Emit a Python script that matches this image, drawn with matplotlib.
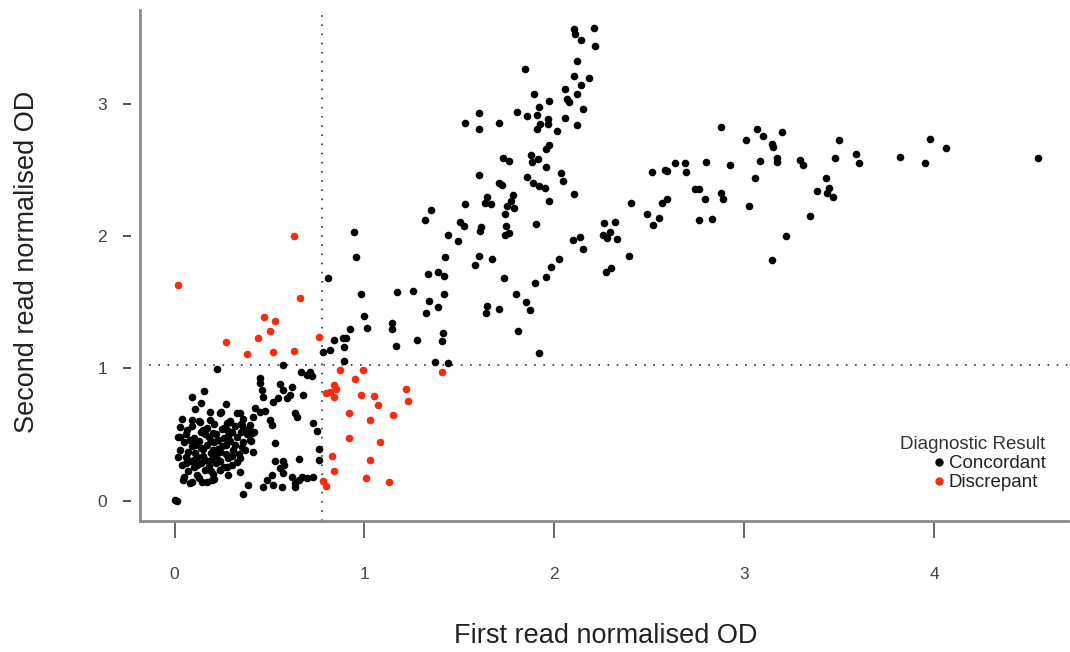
import matplotlib
matplotlib.use('Agg')
import matplotlib.pyplot as plt
from matplotlib.lines import Line2D

plt.rcParams['font.family'] = ['Liberation Sans', 'DejaVu Sans']

# cut-offs used for the two reads
x_cut = 0.776
y_cut = 1.025

# concordant results - dense low cluster
conc_low = [
    (0.003, 0.004), (0.013, -0.004), (0.155, 0.828), (0.092, 0.783), (0.139, 0.738),
    (0.108, 0.692), (0.187, 0.669), (0.271, 0.730), (0.245, 0.669), (0.239, 0.662),
    (0.329, 0.662), (0.276, 0.586), (0.187, 0.609), (0.092, 0.609), (0.134, 0.594),
    (0.292, 0.594), (0.029, 0.556), (0.066, 0.533), (0.150, 0.533), (0.203, 0.511),
    (0.276, 0.533), (0.361, 0.533), (0.018, 0.480), (0.045, 0.155), (0.082, 0.132),
    (0.145, 0.140), (0.197, 0.155), (0.239, 0.231), (0.276, 0.253),
    (0.04, 0.62), (0.06, 0.50), (0.05, 0.44), (0.03, 0.38), (0.06, 0.33), (0.04, 0.27),
    (0.07, 0.22), (0.05, 0.18), (0.09, 0.56), (0.10, 0.47), (0.09, 0.41), (0.11, 0.36),
    (0.08, 0.30), (0.10, 0.25), (0.12, 0.19), (0.09, 0.14), (0.13, 0.60), (0.14, 0.52),
    (0.13, 0.45), (0.15, 0.39), (0.12, 0.33), (0.14, 0.28), (0.16, 0.23), (0.13, 0.17),
    (0.17, 0.55), (0.18, 0.48), (0.17, 0.42), (0.19, 0.36), (0.16, 0.31), (0.18, 0.26),
    (0.20, 0.20), (0.17, 0.14), (0.21, 0.58), (0.22, 0.50), (0.21, 0.44), (0.23, 0.39),
    (0.20, 0.33), (0.22, 0.28), (0.24, 0.23), (0.21, 0.16), (0.25, 0.54), (0.26, 0.47),
    (0.25, 0.41), (0.27, 0.35), (0.24, 0.30), (0.26, 0.25), (0.28, 0.19), (0.29, 0.60),
    (0.30, 0.52), (0.29, 0.45), (0.31, 0.38), (0.28, 0.32), (0.30, 0.27), (0.32, 0.56),
    (0.33, 0.48), (0.32, 0.42), (0.34, 0.35), (0.33, 0.29), (0.35, 0.52), (0.36, 0.44),
    (0.37, 0.38), (0.11, 0.42), (0.15, 0.34), (0.19, 0.45), (0.23, 0.31), (0.27, 0.42),
    (0.07, 0.37), (0.16, 0.50), (0.24, 0.37), (0.12, 0.27), (0.20, 0.38), (0.28, 0.49),
    (0.08, 0.46), (0.18, 0.30), (0.26, 0.55), (0.14, 0.40), (0.22, 0.35), (0.10, 0.31),
    (0.30, 0.34), (0.06, 0.28), (0.19, 0.22), (0.23, 0.46), (0.35, 0.58), (0.38, 0.50),
    (0.02, 0.33), (0.03, 0.48), (0.40, 0.45), (0.39, 0.55), (0.42, 0.52), (0.36, 0.62),
]

# concordant results - around the cut-offs
conc_mid = [
    (0.945, 2.030), (0.955, 1.842), (0.808, 1.683), (0.982, 1.562), (1.171, 1.577),
    (1.255, 1.585), (0.997, 1.395), (1.013, 1.305), (0.924, 1.297), (1.145, 1.343),
    (1.145, 1.297), (0.903, 1.229), (0.887, 1.229), (0.839, 1.214), (0.892, 1.161),
    (0.818, 1.138), (0.782, 1.123), (1.166, 1.169), (1.276, 1.214), (0.892, 1.055),
    (0.571, 1.025), (0.224, 0.995), (0.724, 0.942), (0.697, 0.949), (0.666, 0.972),
    (0.713, 0.972), (0.450, 0.927), (0.450, 0.889), (0.461, 0.836), (0.555, 0.881),
    (0.571, 0.836), (0.618, 0.859), (0.608, 0.798), (0.676, 0.798), (0.518, 0.745),
    (0.545, 0.775), (0.592, 0.775), (0.466, 0.783), (0.424, 0.700), (0.450, 0.669),
    (0.476, 0.677), (0.413, 0.632), (0.503, 0.609), (0.513, 0.571), (0.634, 0.662),
    (0.645, 0.632), (0.729, 0.586), (0.750, 0.526), (0.761, 0.390), (0.761, 0.306),
    (0.729, 0.178), (0.697, 0.170), (0.671, 0.178), (0.655, 0.155), (0.634, 0.132),
    (0.634, 0.102), (0.618, 0.178), (0.655, 0.314), (0.571, 0.299), (0.529, 0.299),
    (0.576, 0.269), (0.555, 0.246), (0.571, 0.208), (0.513, 0.193), (0.487, 0.155),
    (0.518, 0.117), (0.566, 0.102), (0.466, 0.102), (0.387, 0.117), (0.361, 0.049),
    (0.529, 0.435), (0.413, 0.367), (0.355, 0.405), (0.345, 0.321), (0.397, 0.458),
    (0.408, 0.511), (0.355, 0.571), (0.397, 0.571), (0.345, 0.662), (0.345, 0.216),
]

# concordant results - steep upper branch
conc_upper = [
    (2.103, 3.567), (2.108, 3.529), (2.139, 3.484), (2.208, 3.574), (2.213, 3.438),
    (2.118, 3.325), (1.845, 3.264), (2.103, 3.211), (2.182, 3.196), (2.139, 3.143),
    (2.055, 3.113), (2.118, 3.075), (1.892, 3.075), (1.971, 3.022), (2.066, 3.037),
    (2.076, 3.014), (2.150, 2.961), (1.803, 2.939), (1.918, 2.977), (1.603, 2.931),
    (1.855, 2.909), (1.908, 2.916), (2.055, 2.893), (1.966, 2.886), (1.924, 2.848),
    (1.966, 2.848), (2.118, 2.841), (1.529, 2.856), (1.708, 2.856), (1.603, 2.810),
    (1.908, 2.810), (2.013, 2.795), (1.971, 2.689), (1.955, 2.659), (1.729, 2.591),
    (1.761, 2.568), (1.876, 2.613), (1.882, 2.561), (1.913, 2.583), (1.955, 2.523),
    (1.603, 2.462), (2.034, 2.477), (2.045, 2.417), (1.855, 2.447), (1.887, 2.402),
    (1.918, 2.379), (1.950, 2.364), (1.708, 2.402), (1.724, 2.387), (2.103, 2.319),
    (1.782, 2.311), (1.645, 2.296), (1.634, 2.250), (1.666, 2.243), (1.771, 2.265),
    (1.750, 2.228), (1.787, 2.213), (1.971, 2.265), (1.529, 2.243), (1.350, 2.197),
    (1.318, 2.122), (1.739, 2.167), (1.503, 2.107), (1.524, 2.076), (1.613, 2.069),
    (1.608, 2.039), (1.745, 2.076), (1.903, 2.092), (1.439, 2.008), (1.492, 1.963),
    (1.739, 2.008), (1.761, 2.024), (1.424, 1.842), (1.603, 1.849), (1.582, 1.781),
    (1.671, 1.827), (1.334, 1.713), (1.387, 1.728), (1.418, 1.698), (1.734, 1.683),
    (1.418, 1.562), (1.339, 1.509), (1.387, 1.464), (1.324, 1.418), (1.797, 1.562),
    (1.850, 1.501), (1.871, 1.441), (1.645, 1.471), (1.639, 1.418), (1.708, 1.448),
    (1.808, 1.282), (1.413, 1.267), (1.408, 1.206), (1.918, 1.115), (1.371, 1.048),
    (1.439, 1.040),
]

# concordant results - flatter right branch
conc_right = [
    (1.897, 1.645), (1.955, 1.691), (1.982, 1.766), (2.024, 1.827), (2.097, 1.970),
    (2.134, 1.993), (2.150, 1.902), (2.261, 2.099), (2.318, 2.107), (2.255, 2.008),
    (2.292, 2.031), (2.276, 1.986), (2.329, 1.978), (2.271, 1.728), (2.297, 1.759),
    (2.392, 1.849), (2.403, 2.250), (2.487, 2.167), (2.518, 2.084), (2.550, 2.137),
    (2.513, 2.485), (2.582, 2.500), (2.592, 2.492), (2.634, 2.553), (2.687, 2.553),
    (2.692, 2.485), (2.797, 2.561), (2.566, 2.250), (2.592, 2.281), (2.739, 2.356),
    (2.761, 2.356), (2.792, 2.281), (2.761, 2.122), (2.829, 2.129), (2.876, 2.825),
    (2.876, 2.326), (2.887, 2.281), (3.066, 2.810), (3.097, 2.757), (3.197, 2.787),
    (3.008, 2.727), (3.145, 2.697), (3.150, 2.674), (3.497, 2.727), (3.976, 2.734),
    (4.061, 2.666), (4.545, 2.591), (3.818, 2.598), (3.950, 2.553), (3.587, 2.621),
    (3.603, 2.553), (3.476, 2.591), (3.082, 2.568), (3.171, 2.591), (3.171, 2.561),
    (3.292, 2.576), (3.308, 2.538), (2.924, 2.538), (3.055, 2.440), (3.429, 2.440),
    (3.382, 2.341), (3.445, 2.364), (3.434, 2.326), (3.466, 2.296), (3.024, 2.228),
    (3.345, 2.152), (3.218, 2.001), (3.145, 1.819),
]

# discrepant results
discrepant = [
    (0.02, 1.63), (0.63, 2.00), (0.66, 1.53), (0.47, 1.39), (0.53, 1.36), (0.50, 1.28),
    (0.27, 1.20), (0.44, 1.23), (0.38, 1.11), (0.52, 1.12), (0.63, 1.13), (0.76, 1.24),
    (1.41, 0.97), (0.87, 0.99), (0.99, 0.99), (0.95, 0.92), (0.84, 0.87), (0.85, 0.84),
    (0.80, 0.81), (0.82, 0.82), (0.84, 0.78), (0.98, 0.80), (1.05, 0.79), (1.07, 0.72),
    (1.22, 0.84), (1.23, 0.75), (0.92, 0.66), (1.03, 0.61), (1.15, 0.65), (0.92, 0.47),
    (1.08, 0.44), (0.83, 0.34), (1.03, 0.31), (0.84, 0.22), (1.01, 0.17), (1.13, 0.14),
    (0.78, 0.15), (0.80, 0.11),
]

concordant = conc_low + conc_mid + conc_upper + conc_right
cx, cy = zip(*concordant)
dx, dy = zip(*discrepant)

red = '#ff2a0a'

fig = plt.figure(figsize=(10.7, 6.52), dpi=100)
ax = fig.add_axes([0.1308, 0.2009, 0.8672, 0.7838])
ax.set_xlim(-0.182, 4.703)
ax.set_ylim(-0.155, 3.71)

ax.axvline(x_cut, color='#333333', lw=1.2, ls=(0, (1, 4.5)), zorder=1)
ax.axhline(y_cut, color='#333333', lw=1.2, ls=(0, (1, 4.5)), zorder=1)

ax.scatter(cx, cy, s=30, color='black', linewidths=0, zorder=3)
ax.scatter(dx, dy, s=30, color=red, linewidths=0, zorder=3)

# R style axes: ticks on y stand apart from the axis line
for s in ['top', 'right']:
    ax.spines[s].set_visible(False)
ax.spines['left'].set_visible(False)
ax.spines['left'].set_position(('outward', 6.5))
ax.plot([0, 0], [0, 1], transform=ax.transAxes, color='#8a8a8a', lw=2, clip_on=False, zorder=4)
ax.spines['bottom'].set_color('#8a8a8a')
ax.spines['bottom'].set_linewidth(2)

ax.set_xticks([0, 1, 2, 3, 4])
ax.set_yticks([0, 1, 2, 3])
ax.tick_params(axis='x', length=12, width=1.4, color='#666666', pad=21,
               labelsize=12.5, labelcolor='#444444')
ax.tick_params(axis='y', length=5.8, width=1.1, color='#222222', pad=11.5,
               labelsize=12.5, labelcolor='#444444')

fig.text(0.5664, 0.0245, 'First read normalised OD', ha='center', va='center',
         fontsize=19.5, color='#222222')
fig.text(0.0252, 0.598, 'Second read normalised OD', ha='center', va='center',
         rotation=90, fontsize=19.5, color='#222222')

handles = [Line2D([], [], marker='o', ls='', color='black', markersize=5),
           Line2D([], [], marker='o', ls='', color=red, markersize=5)]
leg = ax.legend(handles, ['Concordant', 'Discrepant'], title='Diagnostic Result',
                loc='upper right', bbox_to_anchor=(0.977, 0.331),
                bbox_transform=fig.transFigure, frameon=False, fontsize=13.5,
                title_fontsize=13.5, alignment='right', labelspacing=0.1,
                handletextpad=0.2, handlelength=0.6, borderpad=0, borderaxespad=0)
leg.get_title().set_color('#333333')
for t in leg.get_texts():
    t.set_color('#222222')

fig.savefig('out.png', dpi=100)
